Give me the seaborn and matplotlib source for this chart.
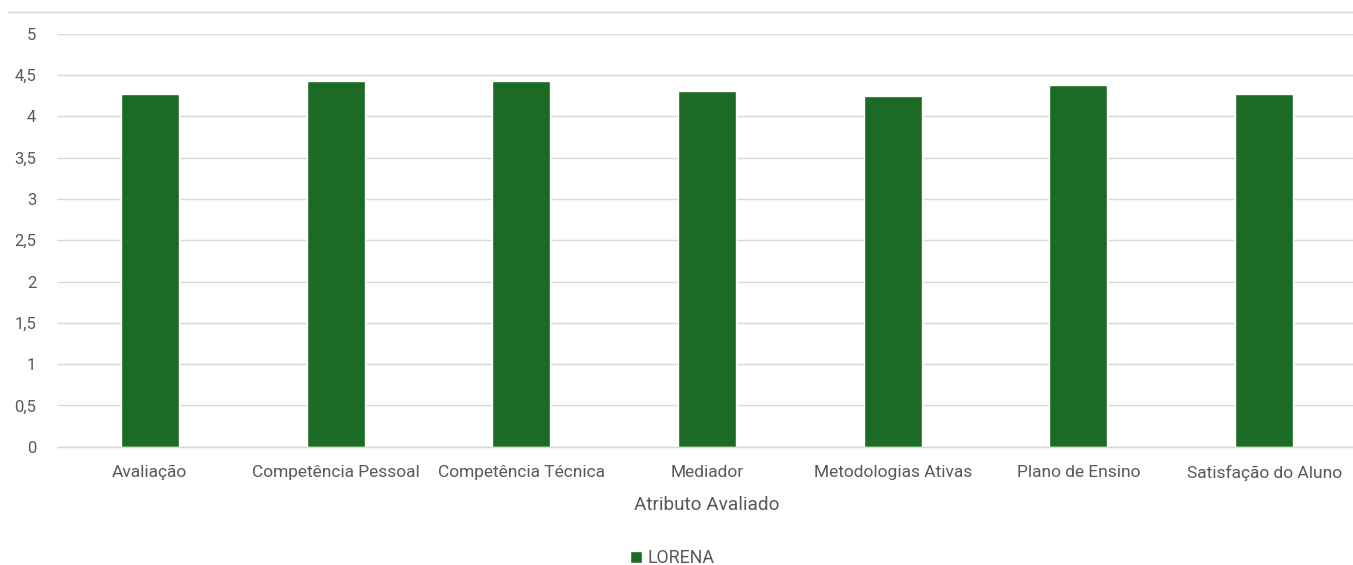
import matplotlib
matplotlib.use("Agg")
import matplotlib.pyplot as plt
from matplotlib.lines import Line2D
import seaborn as sns
import pandas as pd

categorias = ["Avaliação", "Competência Pessoal", "Competência Técnica", "Mediador",
              "Metodologias Ativas", "Plano de Ensino", "Satisfação do Aluno"]
valores = [4.27, 4.43, 4.43, 4.31, 4.24, 4.38, 4.27]
serie = "LORENA"
yticks = [0, 0.5, 1, 1.5, 2, 2.5, 3, 3.5, 4, 4.5, 5]
ytick_labels = ["0", "0,5", "1", "1,5", "2", "2,5", "3", "3,5", "4", "4,5", "5"]

sns.set_theme(style="white")
plt.rcParams['font.family'] = ['Liberation Sans Narrow', 'Roboto', 'DejaVu Sans']

GREEN = "#1b6b24"
TXT = "#595959"
GRID = "#d9d9d9"

df = pd.DataFrame({"Atributo": categorias, "Valor": valores, "Série": [serie] * len(categorias)})

fig = plt.figure(figsize=(13.53, 5.65), dpi=100)
ax = fig.add_axes([57/1353, (565-446.7)/565, 1300/1353, (446.7-33.7)/565])

sns.barplot(data=df, x="Atributo", y="Valor", hue="Série", palette=[GREEN],
            width=0.312, ax=ax, saturation=1, legend=True)

ax.set_ylim(0, 5)
ax.set_xlim(-0.5, len(categorias) - 0.5)
ax.set_yticks(yticks)
ax.set_yticklabels(ytick_labels)
ax.yaxis.grid(True, color=GRID, linewidth=1)
ax.set_axisbelow(True)
for s in ["top", "right", "left"]:
    ax.spines[s].set_visible(False)
ax.spines["bottom"].set_color(GRID)
ax.spines["bottom"].set_linewidth(1)
ax.tick_params(axis="y", length=0, colors=TXT, labelsize=12, pad=15)
ax.tick_params(axis="x", length=0, colors=TXT, labelsize=12.5, pad=13)
ax.set_ylabel("")
ax.set_xlabel("Atributo Avaliado", color=TXT, fontsize=13.7, labelpad=11)

handles, labels = ax.get_legend_handles_labels()
ax.get_legend().remove()
fig.legend(handles, labels, loc="center", bbox_to_anchor=(0.497, (565-558)/565),
           frameon=False, fontsize=12.8, labelcolor=TXT, handlelength=0.7,
           handleheight=0.7, handletextpad=0.3)

fig.add_artist(Line2D([8/1353, 1.0], [(565-12)/565] * 2, color=GRID, linewidth=1))

fig.savefig("out.png", dpi=100)
